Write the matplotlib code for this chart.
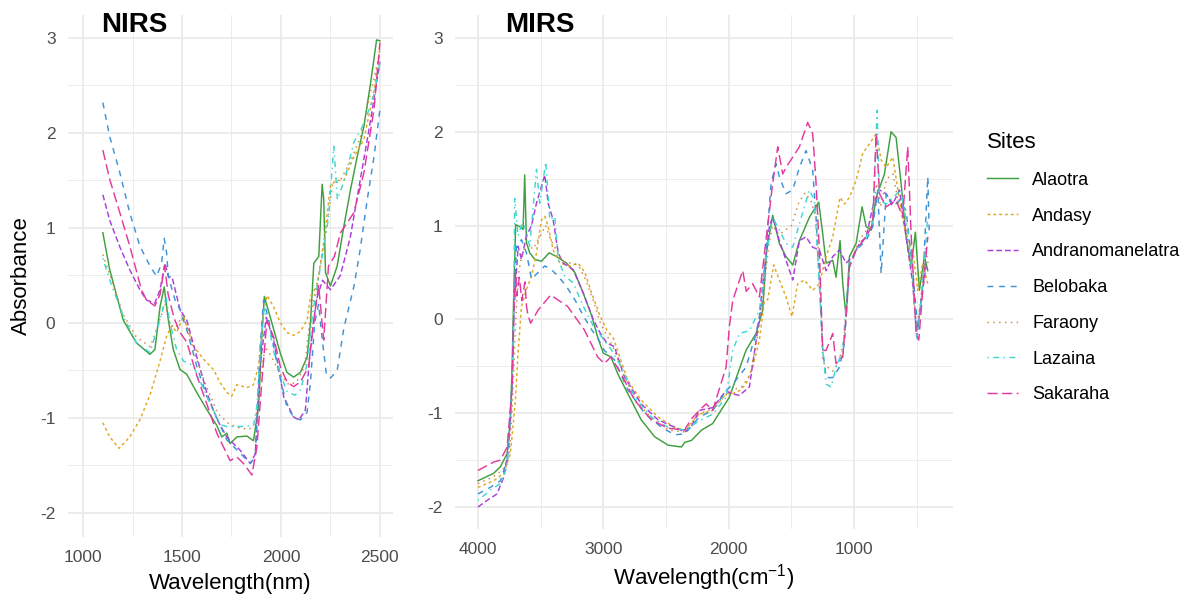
import matplotlib
matplotlib.use("Agg")
import matplotlib.pyplot as plt
from matplotlib.ticker import MultipleLocator

plt.rcParams['font.family'] = ['Liberation Sans', 'DejaVu Sans']
plt.rcParams['mathtext.fontset'] = 'custom'
plt.rcParams['mathtext.rm'] = 'Liberation Sans'
plt.rcParams['axes.unicode_minus'] = False

sites = ['Alaotra', 'Andasy', 'Andranomanelatra', 'Belobaka', 'Faraony', 'Lazaina', 'Sakaraha']
colors = ['#3E9F3E', '#E0A820', '#A93FD8', '#3D93D6', '#C9883E', '#3ED8D0', '#E23A9C']
dashes = [None, (2, 2), (4, 2), (4, 4), (1, 3), (1, 3, 4, 3), (7, 3)]

# ---- NIRS (wavelength nm) ----
nir_alaotra_x = [1100, 1135, 1203, 1270, 1338, 1363, 1389, 1410, 1431, 1456, 1490, 1524, 1574, 1625, 1676, 1701, 1726, 1743, 1777, 1828, 1861, 1887, 1904, 1916, 1946, 1997, 2030, 2064, 2098, 2132, 2149, 2166, 2191, 2208, 2216, 2225, 2250, 2284, 2318, 2351, 2385, 2419, 2453, 2483, 2500]
nir_alaotra_y = [0.95, 0.56, 0.03, -0.21, -0.33, -0.28, 0.17, 0.38, 0.03, -0.28, -0.49, -0.54, -0.73, -0.91, -1.08, -1.2, -1.16, -1.27, -1.2, -1.19, -1.24, -0.88, -0.11, 0.28, 0.06, -0.32, -0.52, -0.57, -0.52, -0.36, 0.0, 0.63, 0.70, 1.46, 1.30, 0.53, 0.39, 0.6, 1.02, 1.40, 1.75, 2.07, 2.53, 2.98, 2.97]

nir_andasy_x = [1100, 1135, 1182, 1236, 1287, 1338, 1389, 1422, 1448, 1473, 1507, 1557, 1608, 1659, 1693, 1726, 1751, 1777, 1828, 1861, 1887, 1912, 1929, 1963, 1997, 2030, 2064, 2098, 2132, 2149, 2183, 2220, 2250, 2280, 2318, 2368, 2419, 2470, 2500]
nir_andasy_y = [-1.05, -1.2, -1.32, -1.2, -1.02, -0.76, -0.4, -0.14, -0.03, -0.1, 0.07, -0.24, -0.38, -0.49, -0.63, -0.73, -0.77, -0.65, -0.68, -0.65, -0.45, 0.1, 0.29, 0.17, 0.0, -0.1, -0.13, -0.09, 0.03, 0.28, 0.4, 0.9, 1.45, 1.5, 1.5, 1.75, 1.93, 2.45, 2.9]

nir_andra_x = [1100, 1135, 1186, 1236, 1287, 1321, 1363, 1389, 1414, 1431, 1450, 1490, 1524, 1574, 1625, 1676, 1726, 1794, 1845, 1870, 1895, 1926, 1963, 2014, 2064, 2090, 2123, 2149, 2180, 2210, 2250, 2300, 2350, 2400, 2450, 2500]
nir_andra_y = [1.35, 1.08, 0.8, 0.56, 0.35, 0.24, 0.21, 0.35, 0.63, 0.49, 0.48, 0.14, 0.03, -0.35, -0.73, -1.01, -1.2, -1.34, -1.48, -1.38, -0.43, 0.06, -0.18, -0.78, -0.99, -1.02, -0.92, -0.25, 0.25, 0.45, 0.35, 0.5, 0.9, 1.5, 2.1, 2.75]

nir_belobaka_x = [1100, 1135, 1186, 1236, 1287, 1338, 1372, 1397, 1410, 1422, 1431, 1465, 1490, 1524, 1574, 1625, 1676, 1726, 1794, 1845, 1870, 1895, 1912, 1938, 1980, 2030, 2064, 2098, 2132, 2150, 2170, 2190, 2210, 2230, 2250, 2284, 2318, 2368, 2400, 2436, 2470, 2500]
nir_belobaka_y = [2.32, 1.96, 1.58, 1.16, 0.81, 0.6, 0.49, 0.63, 0.89, 0.74, 0.49, 0.24, 0.14, -0.07, -0.45, -0.77, -1.0, -1.23, -1.37, -1.48, -1.41, -0.25, 0.24, 0.03, -0.43, -0.88, -0.99, -1.02, -0.94, -0.6, 0.0, 0.2, -0.2, -0.55, -0.58, -0.5, -0.05, 0.38, 0.77, 1.3, 1.75, 2.25]

nir_faraony_x = [1100, 1150, 1200, 1270, 1340, 1390, 1415, 1440, 1470, 1505, 1560, 1620, 1680, 1730, 1780, 1840, 1870, 1895, 1920, 1950, 2000, 2040, 2080, 2120, 2150, 2190, 2230, 2260, 2300, 2350, 2400, 2450, 2500]
nir_faraony_y = [0.72, 0.42, 0.1, -0.15, -0.25, 0.05, 0.2, -0.02, -0.05, 0.1, -0.3, -0.65, -0.95, -1.05, -1.1, -1.12, -1.05, -0.6, -0.25, -0.35, -0.55, -0.65, -0.62, -0.45, 0.1, 0.5, 1.0, 1.45, 1.5, 1.7, 1.95, 2.4, 2.85]

nir_lazaina_x = [1100, 1135, 1203, 1270, 1338, 1389, 1419, 1439, 1473, 1507, 1557, 1625, 1693, 1726, 1794, 1861, 1878, 1895, 1915, 1940, 1963, 2000, 2030, 2070, 2100, 2132, 2160, 2200, 2240, 2267, 2285, 2320, 2368, 2420, 2470, 2500]
nir_lazaina_y = [0.68, 0.45, 0.07, -0.21, -0.31, 0.03, 0.28, 0.0, -0.28, -0.4, -0.45, -0.77, -1.07, -1.09, -1.09, -1.08, -0.88, -0.3, 0.15, -0.05, -0.3, -0.55, -0.72, -0.76, -0.7, -0.43, 0.1, 0.6, 1.1, 1.86, 1.3, 1.5, 1.9, 2.1, 2.4, 2.75]

nir_sakaraha_x = [1100, 1135, 1186, 1236, 1295, 1321, 1363, 1389, 1412, 1430, 1460, 1490, 1524, 1574, 1625, 1676, 1743, 1777, 1811, 1853, 1878, 1904, 1929, 1963, 1997, 2030, 2064, 2098, 2140, 2166, 2190, 2216, 2240, 2270, 2301, 2368, 2419, 2470, 2500]
nir_sakaraha_y = [1.82, 1.51, 1.16, 0.81, 0.35, 0.24, 0.18, 0.3, 0.6, 0.3, 0.05, -0.1, -0.2, -0.55, -0.85, -1.16, -1.45, -1.41, -1.48, -1.6, -1.31, -0.6, 0.03, -0.15, -0.46, -0.62, -0.67, -0.62, -0.46, 0.03, 0.4, -0.18, 0.6, 0.7, 0.95, 1.16, 1.58, 2.25, 2.95]

# ---- MIRS (wavenumber cm-1) ----
mir_alaotra_x = [4000, 3874, 3821, 3767, 3741, 3727, 3714, 3699, 3667, 3640, 3627, 3613, 3587, 3547, 3493, 3432, 3373, 3293, 3227, 3160, 3093, 3045, 3000, 2939, 2885, 2805, 2698, 2591, 2484, 2377, 2350, 2297, 2217, 2128, 1995, 1862, 1782, 1729, 1697, 1649, 1596, 1543, 1489, 1436, 1356, 1282, 1250, 1223, 1170, 1144, 1112, 1090, 1064, 1037, 984, 936, 904, 864, 824, 758, 705, 665, 625, 585, 545, 511, 479, 439, 412]
mir_alaotra_y = [-1.72, -1.64, -1.57, -1.43, -1.07, -0.47, 0.3, 1.01, 0.99, 0.96, 1.54, 0.82, 0.71, 0.64, 0.62, 0.71, 0.67, 0.6, 0.5, 0.28, 0.04, -0.19, -0.36, -0.4, -0.58, -0.79, -1.07, -1.25, -1.34, -1.36, -1.31, -1.29, -1.18, -1.11, -0.83, -0.33, -0.15, 0.1, 0.74, 1.11, 0.81, 0.67, 0.58, 0.84, 1.09, 1.25, 0.91, 0.6, 0.63, 0.45, 0.84, 0.38, 0.03, 0.67, 0.81, 1.2, 0.99, 0.95, 1.3, 1.55, 2.0, 1.94, 1.45, 0.88, 0.56, 0.93, 0.31, 0.67, 0.52]

mir_andasy_x = [4000, 3874, 3794, 3741, 3701, 3682, 3653, 3613, 3573, 3533, 3493, 3467, 3440, 3400, 3347, 3267, 3200, 3147, 3093, 3027, 2973, 2920, 2805, 2698, 2564, 2430, 2350, 2234, 2128, 2021, 1968, 1915, 1862, 1809, 1755, 1715, 1689, 1641, 1596, 1543, 1495, 1450, 1396, 1330, 1277, 1223, 1170, 1112, 1077, 1037, 984, 931, 878, 824, 784, 744, 691, 638, 585, 532, 492, 452, 412]
mir_andasy_y = [-1.79, -1.72, -1.64, -1.43, -0.86, -0.4, 0.14, 0.32, 0.46, 0.71, 1.06, 1.1, 0.99, 0.74, 0.6, 0.57, 0.6, 0.5, 0.28, 0.04, -0.11, -0.2, -0.65, -0.86, -1.04, -1.15, -1.18, -1.01, -0.97, -0.79, -0.79, -0.76, -0.69, -0.51, -0.22, 0.2, 0.21, 0.58, 0.42, 0.24, 0.03, 0.38, 0.42, 0.31, 0.38, 0.67, 0.88, 1.3, 1.23, 1.3, 1.48, 1.77, 1.87, 1.98, 1.7, 1.62, 1.73, 1.27, 0.88, 0.74, 0.31, 0.6, 0.38]

mir_andra_x = [4000, 3928, 3848, 3794, 3754, 3727, 3714, 3680, 3653, 3613, 3573, 3533, 3493, 3467, 3440, 3400, 3360, 3320, 3240, 3160, 3080, 3027, 2973, 2912, 2832, 2698, 2564, 2430, 2350, 2297, 2234, 2128, 2021, 1981, 1915, 1835, 1755, 1729, 1676, 1649, 1596, 1543, 1489, 1436, 1383, 1330, 1277, 1223, 1170, 1117, 1064, 1011, 957, 904, 851, 797, 744, 691, 638, 585, 532, 500, 466, 426]
mir_andra_y = [-2.0, -1.93, -1.86, -1.68, -1.36, -0.65, 0.06, 0.78, 0.64, 0.89, 1.0, 1.24, 1.42, 1.54, 1.24, 1.06, 0.71, 0.6, 0.53, 0.28, 0.0, -0.14, -0.25, -0.29, -0.61, -0.9, -1.07, -1.15, -1.2, -1.14, -0.97, -0.94, -0.76, -0.79, -0.81, -0.72, 0.02, 0.38, 0.99, 1.09, 0.84, 0.63, 0.42, 0.84, 0.88, 0.77, 0.74, 0.52, 0.67, 0.74, 0.6, 0.67, 0.81, 0.88, 1.2, 1.38, 1.34, 1.23, 1.38, 0.88, 0.38, -0.18, 0.2, 0.56]

mir_belobaka_x = [4000, 3901, 3821, 3767, 3727, 3714, 3693, 3653, 3613, 3573, 3520, 3467, 3413, 3360, 3293, 3227, 3160, 3093, 3040, 2992, 2912, 2805, 2671, 2537, 2430, 2350, 2234, 2128, 2021, 1968, 1862, 1782, 1729, 1702, 1662, 1622, 1596, 1543, 1489, 1436, 1383, 1330, 1303, 1277, 1250, 1223, 1170, 1117, 1077, 1037, 984, 904, 851, 811, 784, 744, 691, 638, 585, 532, 492, 452, 412, 400]
mir_belobaka_y = [-1.86, -1.79, -1.72, -1.5, -0.72, 0.06, 0.78, 0.85, 0.71, 0.43, 0.5, 0.57, 0.53, 0.46, 0.35, 0.21, 0.04, -0.11, -0.21, -0.33, -0.43, -0.75, -1.0, -1.15, -1.23, -1.22, -1.04, -0.97, -0.76, -0.69, -0.51, -0.15, 0.2, 0.74, 1.45, 1.66, 1.52, 1.34, 1.38, 1.62, 1.8, 1.59, 1.09, 0.38, -0.33, -0.62, -0.62, -0.51, -0.26, 0.56, 0.74, 0.84, 0.99, 1.38, 0.49, 1.34, 1.2, 1.27, 1.16, 0.52, -0.11, 0.38, 1.52, 0.9]

mir_faraony_x = [4000, 3880, 3800, 3750, 3725, 3705, 3680, 3650, 3610, 3560, 3500, 3460, 3420, 3380, 3330, 3260, 3200, 3140, 3080, 3020, 2960, 2920, 2850, 2750, 2620, 2480, 2350, 2250, 2130, 2020, 1960, 1900, 1830, 1760, 1720, 1680, 1650, 1600, 1550, 1500, 1440, 1390, 1340, 1300, 1270, 1250, 1220, 1170, 1120, 1080, 1040, 990, 930, 870, 820, 790, 740, 690, 640, 590, 540, 500, 470, 430, 410]
mir_faraony_y = [-1.75, -1.68, -1.6, -1.45, -0.9, -0.2, 0.45, 0.7, 0.8, 0.75, 0.9, 1.0, 0.85, 0.75, 0.62, 0.6, 0.58, 0.42, 0.2, -0.05, -0.2, -0.3, -0.55, -0.85, -1.05, -1.18, -1.2, -1.02, -0.95, -0.8, -0.75, -0.72, -0.6, -0.1, 0.3, 0.8, 1.0, 0.9, 0.95, 1.0, 1.25, 1.35, 1.25, 1.05, 0.4, -0.45, -0.5, -0.55, -0.45, -0.2, 0.55, 0.75, 0.9, 1.0, 1.45, 1.2, 1.5, 1.55, 1.2, 1.05, 0.5, -0.1, 0.2, 0.75, 0.6]

mir_lazaina_x = [4000, 3901, 3821, 3767, 3727, 3714, 3707, 3680, 3640, 3587, 3533, 3507, 3459, 3427, 3387, 3360, 3307, 3240, 3160, 3080, 3000, 2933, 2858, 2751, 2618, 2484, 2350, 2234, 2128, 2021, 1968, 1915, 1835, 1755, 1702, 1649, 1596, 1543, 1489, 1436, 1356, 1316, 1277, 1250, 1223, 1184, 1144, 1090, 1037, 984, 904, 851, 816, 797, 744, 691, 625, 572, 532, 500, 466, 412]
mir_lazaina_y = [-1.93, -1.82, -1.75, -1.57, -0.65, 0.06, 1.29, 0.89, 1.06, 0.78, 1.6, 1.24, 1.68, 1.06, 1.1, 0.64, 0.46, 0.39, 0.14, -0.07, -0.21, -0.33, -0.5, -0.83, -1.04, -1.15, -1.18, -1.08, -1.01, -0.83, -0.33, -0.15, -0.12, 0.1, 0.67, 1.09, 0.95, 0.81, 0.77, 1.02, 1.38, 1.27, 0.38, -0.33, -0.69, -0.72, -0.51, -0.33, 0.6, 0.74, 0.88, 1.02, 2.23, 1.27, 1.23, 1.3, 1.38, 0.95, 0.42, -0.22, 0.17, 1.09]

mir_sakaraha_x = [4000, 3874, 3821, 3767, 3727, 3714, 3700, 3690, 3670, 3650, 3625, 3613, 3600, 3580, 3520, 3420, 3286, 3152, 3045, 2992, 2939, 2858, 2751, 2618, 2484, 2350, 2340, 2290, 2234, 2180, 2128, 2021, 1995, 1968, 1941, 1888, 1860, 1809, 1755, 1697, 1649, 1609, 1569, 1543, 1489, 1436, 1370, 1330, 1303, 1277, 1250, 1223, 1170, 1144, 1090, 1060, 1037, 984, 904, 851, 824, 797, 744, 665, 612, 572, 545, 505, 484, 452, 412]
mir_sakaraha_y = [-1.61, -1.52, -1.5, -1.36, -0.72, 0.06, 0.5, 0.25, 0.45, 0.2, 0.4, 0.14, 0.04, -0.04, 0.1, 0.26, 0.14, -0.11, -0.4, -0.47, -0.4, -0.58, -0.86, -1.07, -1.16, -1.18, -1.15, -1.05, -0.97, -0.9, -0.97, -0.51, -0.08, 0.2, 0.31, 0.52, 0.3, 0.38, 0.24, 0.91, 1.45, 1.84, 1.55, 1.62, 1.73, 1.84, 2.1, 1.98, 1.45, 0.74, -0.33, -0.33, -0.15, -0.47, -0.4, 0.1, 0.56, 0.74, 0.88, 1.02, 1.98, 1.34, 1.2, 1.27, 1.09, 1.84, 0.91, -0.15, -0.22, 0.31, 0.88]

nir_series = [(nir_alaotra_x, nir_alaotra_y), (nir_andasy_x, nir_andasy_y), (nir_andra_x, nir_andra_y),
              (nir_belobaka_x, nir_belobaka_y), (nir_faraony_x, nir_faraony_y), (nir_lazaina_x, nir_lazaina_y),
              (nir_sakaraha_x, nir_sakaraha_y)]
mir_series = [(mir_alaotra_x, mir_alaotra_y), (mir_andasy_x, mir_andasy_y), (mir_andra_x, mir_andra_y),
              (mir_belobaka_x, mir_belobaka_y), (mir_faraony_x, mir_faraony_y), (mir_lazaina_x, mir_lazaina_y),
              (mir_sakaraha_x, mir_sakaraha_y)]

W, H = 1197, 599
fig = plt.figure(figsize=(W / 100, H / 100), dpi=100)
ax1 = fig.add_axes([68 / W, 1 - 537 / H, 325 / W, 522 / H])
ax2 = fig.add_axes([455 / W, 1 - 529 / H, 498 / W, 514 / H])


def style(ax):
    for s in ax.spines.values():
        s.set_visible(False)
    ax.grid(which='major', color='#EBEBEB', lw=1.3)
    ax.grid(which='minor', color='#EBEBEB', lw=0.65)
    ax.set_axisbelow(True)
    ax.tick_params(which='both', length=0, labelsize=12.5, labelcolor='#4D4D4D', pad=9)
    ax.yaxis.set_major_locator(MultipleLocator(1))
    ax.yaxis.set_minor_locator(MultipleLocator(0.5))


def draw(ax, series):
    lines = []
    for (x, y), lab, c, d in zip(series, sites, colors, dashes):
        ln, = ax.plot(x, y, color=c, lw=1.05, label=lab)
        if d is not None:
            ln.set_dashes(d)
        lines.append(ln)
    return lines


draw(ax1, nir_series)
style(ax1)
ax1.set_xlim(924, 2566)
ax1.set_ylim(-2.253, 3.242)
ax1.xaxis.set_major_locator(MultipleLocator(500))
ax1.xaxis.set_minor_locator(MultipleLocator(250))
ax1.set_xlabel('Wavelength(nm)', fontsize=16, labelpad=6)
ax1.set_ylabel('Absorbance', fontsize=16, labelpad=6)

handles = draw(ax2, mir_series)
style(ax2)
ax2.set_xlim(4183, 211)
ax2.set_ylim(-2.234, 3.245)
ax2.xaxis.set_major_locator(MultipleLocator(1000))
ax2.xaxis.set_minor_locator(MultipleLocator(500))
ax2.set_xlabel(r'Wavelength(cm$^{\mathregular{-1}}$)', fontsize=16, labelpad=4)

fig.text(134 / W, 1 - 25 / H, 'NIRS', fontsize=20, fontweight='bold', ha='center', va='center')
fig.text(540 / W, 1 - 25 / H, 'MIRS', fontsize=20, fontweight='bold', ha='center', va='center')

fig.legend(handles=handles, labels=sites, loc='upper left', bbox_to_anchor=(987 / W, 1 - 132 / H),
           frameon=False, title='Sites', fontsize=13, title_fontsize=16, handlelength=1.7,
           handletextpad=0.8, labelspacing=1.04, borderpad=0, borderaxespad=0, alignment='left')

fig.savefig('out.png', dpi=100)
